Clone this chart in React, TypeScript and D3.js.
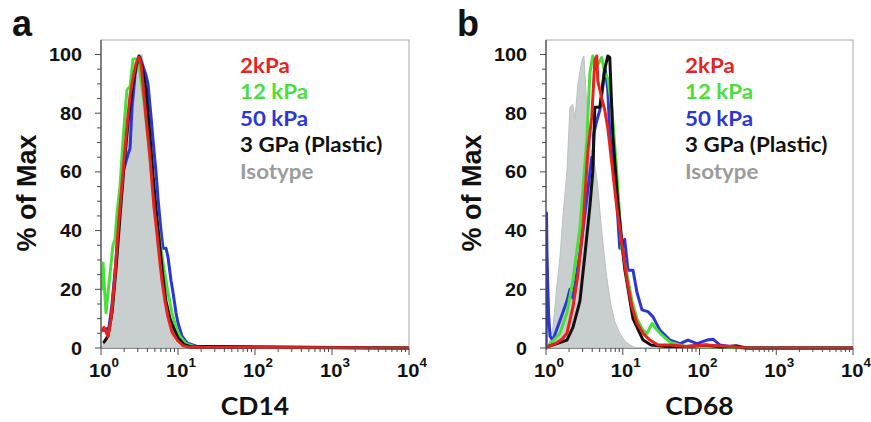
import React from 'react';
import * as d3 from 'd3';

// ---------- data ----------
const yTickValues = [0, 20, 40, 60, 80, 100];
const decadeExponents = [0, 1, 2, 3, 4];
const legendLabels = ['2kPa', '12 kPa', '50 kPa', '3 GPa (Plastic)', 'Isotype'];
const seriesColors = ['#e8221e', '#48e03a', '#2a36d8', '#111111', '#9b9b9b'];
const panelLetters = ['a', 'b'];
const markerNames = ['CD14', 'CD68'];

// Panel a – CD14 (intensity, % of max)
const cd14IsoX = [1.03, 1.094, 1.233, 1.432, 1.567, 1.766, 1.991, 2.178, 2.382, 2.606, 2.851, 3.119, 3.404, 3.724, 3.954, 4.325, 4.732, 5.176, 5.495, 6.012, 6.383, 6.982, 7.87, 8.872, 10, 11.6, 10000];
const cd14IsoY = [0, 2, 6, 12, 25, 39, 57, 67, 80, 90, 96, 99, 100, 94, 88, 75, 60, 48, 37, 27, 19, 12, 6, 2.5, 1, 0, 0];
const cd14RedX = [1.03, 1.094, 1.233, 1.349, 1.521, 1.663, 1.875, 2.178, 2.382, 2.606, 2.851, 3.119, 3.304, 3.508, 3.954, 4.325, 4.875, 5.333, 5.834, 6.194, 6.776, 7.413, 8.356, 9.705, 11.6, 14.3, 10000];
const cd14RedY = [6, 7, 4, 10, 25, 40, 56, 76, 86, 92, 97, 99, 97, 90, 75, 65, 48, 39, 29, 23, 16, 10.6, 5.5, 2.7, 0.8, 0.2, 0];
const cd14GreenX = [1.03, 1.062, 1.161, 1.271, 1.432, 1.521, 1.614, 1.766, 1.932, 2.113, 2.178, 2.382, 2.606, 2.938, 3.206, 3.614, 4.074, 4.592, 5.176, 5.834, 6.577, 7.413, 8.356, 9.419, 10.6, 12.7, 17.1, 10000];
const cd14GreenY = [20, 29, 12, 22, 35, 37, 46, 55, 71, 84, 88, 89, 98.5, 98.5, 94, 84, 72, 58, 47, 36, 27, 19, 12, 7, 4, 1.5, 0.3, 0];
const cd14BlueX = [1.094, 1.271, 1.39, 1.567, 1.714, 1.932, 2.244, 2.382, 2.529, 2.767, 2.938, 3.206, 3.508, 3.837, 4.074, 4.457, 4.732, 5.176, 5.495, 6.012, 6.383, 6.982, 7.413, 8.11, 8.61, 9.419, 10, 11.27, 13.09, 17.65, 10000];
const cd14BlueY = [6, 7, 15, 30, 45, 60, 66, 68, 82, 93, 97, 99, 96, 93, 90, 79, 71, 60, 51, 40, 34, 34, 31, 23, 19, 12, 8.5, 4, 1.7, 0.5, 0];
const cd14BlackX = [1.094, 1.233, 1.39, 1.567, 1.766, 1.991, 2.244, 2.529, 2.851, 3.119, 3.404, 3.837, 4.325, 4.875, 5.333, 5.834, 6.383, 6.982, 7.87, 8.872, 10, 11.96, 15.2, 21.8, 10000];
const cd14BlackY = [2, 4, 12, 27, 45, 62, 77, 88, 96, 99.5, 96, 88, 72, 55, 44, 34, 24, 16, 10, 6.5, 3.5, 1.2, 0.3, 0.5, 0];

// Panel b – CD68
const cd68IsoX = [1.062, 1.233, 1.349, 1.521, 1.663, 1.875, 2.051, 2.244, 2.382, 2.606, 2.938, 3.119, 3.304, 3.508, 3.837, 4.325, 4.732, 5.176, 5.662, 6.194, 6.982, 7.87, 9.141, 10.6, 12.4, 14.9, 10000];
const cd68IsoY = [0, 7, 18, 31, 45, 60, 82, 83, 78, 90, 98, 99.5, 88, 78, 68, 62, 55, 43, 33, 24, 15, 9, 5, 2.5, 1, 0, 0];
const cd68RedX = [1.062, 1.349, 1.614, 1.875, 2.244, 2.606, 3.027, 3.508, 3.954, 4.325, 4.592, 4.732, 5.333, 5.834, 6.383, 7.413, 8.356, 9.705, 11.36, 13.2, 15.3, 18.4, 22.6, 28.8, 42.5, 66.7, 122, 257, 404, 10000];
const cd68RedY = [0.5, 1.6, 3, 5, 14, 25, 41, 67, 79, 98, 99.5, 91, 85, 81, 75, 60, 48, 36, 23, 14, 8.5, 5, 2.7, 1, 1, 0.5, 1, 0.5, 0, 0];
const cd68GreenX = [1.062, 1.521, 1.875, 2.244, 2.767, 3.404, 3.724, 4.074, 4.592, 5.333, 5.834, 6.383, 7.194, 8.356, 9.705, 11.36, 13.2, 15.3, 18.4, 20.7, 24.1, 26.3, 30.6, 41.3, 55.7, 75.2, 122, 404, 10000];
const cd68GreenY = [0.5, 5, 12, 23, 41, 71, 93.5, 99.5, 96, 99, 93.5, 92, 82, 60, 34, 25, 16, 10, 6, 5, 8.4, 7, 5, 2, 1, 0.3, 0.3, 0, 0];
const cd68BlueX = [1.005, 1.015, 1.03, 1.078, 1.127, 1.233, 1.875, 2.051, 2.244, 2.767, 3.404, 3.954, 4.074, 4.198, 4.592, 5.023, 5.495, 5.834, 6.383, 6.776, 8.356, 9.141, 10.6, 11.7, 13.6, 15.3, 17.8, 21.3, 24.8, 30.6, 41.3, 55.7, 70.8, 92.8, 125, 150, 185, 250, 404, 10000];
const cd68BlueY = [0, 46, 32, 12, 4, 2.7, 16, 20, 17, 32, 51, 65, 62, 73, 77.5, 81, 89, 96, 88, 73, 50, 34, 37, 26.5, 26.5, 19, 13, 12.4, 10.6, 6, 2.7, 1.5, 2.7, 1.5, 2.7, 3, 1, 0.5, 0, 0];
const cd68BlackX = [1.062, 1.875, 2.244, 2.767, 3.22, 3.724, 4.074, 4.325, 4.732, 5.023, 5.495, 5.834, 6.383, 6.776, 7.413, 8.61, 10.6, 13.6, 18.4, 23.3, 36.6, 66.7, 122, 190, 299, 404, 10000];
const cd68BlackY = [0.5, 2.7, 7, 16, 32, 48, 60, 82, 82, 82, 90, 95, 99.5, 99, 73, 50, 27, 10, 2.7, 1, 0.5, 0.5, 1, 0.3, 0.8, 0, 0];

// ---------- layout ----------
const W = 871;
const H = 422;
const TOP = 40;
const Y0 = 348;
const Y100 = 54.5;
const panels = [
  {
    left: 101, right: 409,
    iso: [cd14IsoX, cd14IsoY],
    lines: [[cd14BlueX, cd14BlueY, 2], [cd14GreenX, cd14GreenY, 1], [cd14BlackX, cd14BlackY, 3], [cd14RedX, cd14RedY, 0]],
  },
  {
    left: 546, right: 853,
    iso: [cd68IsoX, cd68IsoY],
    lines: [[cd68BlueX, cd68BlueY, 2], [cd68GreenX, cd68GreenY, 1], [cd68BlackX, cd68BlackY, 3], [cd68RedX, cd68RedY, 0]],
  },
];

const ARIAL = '"Liberation Sans", Arial, sans-serif';
const LATO = 'Lato, "Open Sans", sans-serif';

function zip(xs: number[], ys: number[]): [number, number][] {
  return xs.map((x, i) => [x, ys[i]]);
}

function SText(props: any) {
  const { x, y, sx = 1, children, ...rest } = props;
  return (
    <text transform={`translate(${x},${y}) scale(${sx},1)`} {...rest}>{children}</text>
  );
}

function Panel({ idx }: { idx: number }) {
  const p = panels[idx];
  const x = d3.scaleLog().domain([1, 10000]).range([p.left, p.right]);
  const y = d3.scaleLinear().domain([0, 100]).range([Y0, Y100]);
  const line = d3.line<[number, number]>().x(d => x(d[0])).y(d => y(d[1]));
  const area = d3.area<[number, number]>().x(d => x(d[0])).y0(y(0)).y1(d => y(d[1]));
  const clipId = `clip${idx}`;
  const minorX: number[] = [];
  for (let e = 0; e < 4; e++) for (let k = 2; k <= 9; k++) minorX.push(k * Math.pow(10, e));
  const yMinor = d3.range(0, 101, 5);
  const axisColor = '#4a4a4a';
  const midX = (p.left + p.right) / 2;
  const legendX = p.left + 139;
  return (
    <g>
      <defs>
        <clipPath id={clipId}>
          <rect x={p.left} y={TOP} width={p.right - p.left} height={Y0 - TOP + 3} />
        </clipPath>
      </defs>
      {/* frame */}
      <rect x={p.left} y={TOP} width={p.right - p.left} height={Y0 - TOP} fill="none" stroke="#a8a8a8" strokeWidth={1} />
      <g clipPath={`url(#${clipId})`}>
        <path d={area(zip(p.iso[0], p.iso[1])) || ''} fill="#c9cece" stroke="#bcc1c1" strokeWidth={1} />
        {p.lines.map((l, i) => (
          <path key={i} d={line(zip(l[0] as number[], l[1] as number[])) || ''} fill="none"
            stroke={seriesColors[l[2] as number]} strokeWidth={3} strokeLinejoin="round" strokeLinecap="round" />
        ))}
      </g>
      {/* axes */}
      <line x1={p.left} x2={p.left} y1={TOP} y2={Y0} stroke={axisColor} strokeWidth={1.2} />
      <line x1={p.left} x2={p.right} y1={Y0 + 0.5} y2={Y0 + 0.5} stroke={axisColor} strokeWidth={1} opacity={0.5} />
      {yMinor.map(v => (
        <line key={'ym' + v} x1={p.left - (v % 20 === 0 ? 6 : 4)} x2={p.left} y1={y(v)} y2={y(v)} stroke={axisColor} strokeWidth={1} />
      ))}
      {yTickValues.map(v => (
        <SText key={'yl' + v} x={p.left - 19} y={y(v) + 6.5} sx={1.1} textAnchor="end" fontFamily={ARIAL} fontWeight="bold" fontSize={18} fill="#111">{v}</SText>
      ))}
      {minorX.map(v => (
        <line key={'xm' + v} x1={x(v)} x2={x(v)} y1={Y0} y2={Y0 + 4} stroke={axisColor} strokeWidth={1} />
      ))}
      {decadeExponents.map(e => (
        <line key={'xM' + e} x1={x(Math.pow(10, e))} x2={x(Math.pow(10, e))} y1={Y0} y2={Y0 + 7} stroke={axisColor} strokeWidth={1} />
      ))}
      {decadeExponents.map(e => (
        <SText key={'xl' + e} x={x(Math.pow(10, e)) + 3} y={376.5} sx={1.12} textAnchor="middle" fontFamily={ARIAL} fontWeight="bold" fontSize={18} fill="#111">
          10<tspan dy={-10} fontSize={12}>{e}</tspan>
        </SText>
      ))}
      {/* axis titles */}
      <text transform={`translate(${p.left - 65},193) rotate(-90)`} textAnchor="middle" fontFamily={ARIAL} fontWeight="bold" fontSize={27} fill="#111">% of Max</text>
      <SText x={midX} y={415} sx={1.08} textAnchor="middle" fontFamily={LATO} fontWeight="bold" fontSize={24.5} fill="#111">{markerNames[idx]}</SText>
      {/* legend */}
      {legendLabels.map((t, i) => (
        <SText key={t} x={legendX} y={72.5 + i * 26.5} sx={1.09} fontFamily={LATO} fontWeight="bold" fontSize={20.5} fill={seriesColors[i]}>{t}</SText>
      ))}
      {/* panel letter */}
      <text x={p.left - 89} y={35.5} fontFamily={ARIAL} fontWeight="bold" fontSize={36} fill="#111">{panelLetters[idx]}</text>
    </g>
  );
}

export default function App() {
  return (
    <svg width={W} height={H} style={{ display: 'block', position: 'absolute', left: 0, top: 0, background: '#fff' }}>
      <rect width={W} height={H} fill="#fff" />
      <Panel idx={0} />
      <Panel idx={1} />
    </svg>
  );
}
